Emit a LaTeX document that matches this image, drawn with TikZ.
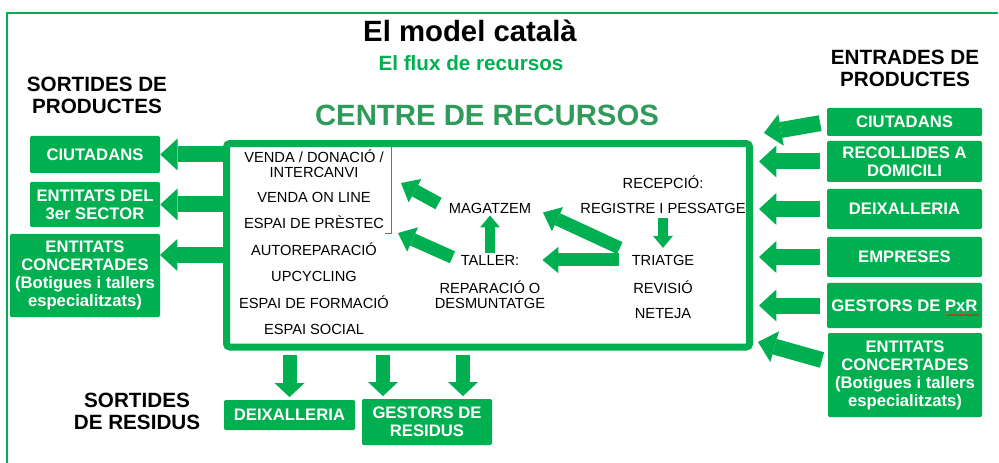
\documentclass[tikz,border=0pt]{standalone}
\usepackage{fontspec}
\setmainfont{Liberation Sans}
\usetikzlibrary{arrows.meta,decorations.pathmorphing}

\definecolor{recgreen}{RGB}{0,176,80}
\definecolor{titlegreen}{RGB}{46,155,90}

\tikzset{
  greenbox/.style={fill=recgreen, text=white, align=center, inner sep=0pt,
    rounded corners=1pt, font=\fontsize{12.5}{13.5}\selectfont\bfseries},
  heading/.style={align=center, font=\fontsize{15.5}{16.5}\selectfont\bfseries},
  item/.style={align=center, inner sep=1.5pt, font=\fontsize{11}{11.5}\selectfont},
  bigarrow/.style={recgreen, line width=12pt,
    -{Triangle[length=13pt,width=24pt,line width=0pt]}},
  resarrow/.style={recgreen, line width=10.5pt,
    -{Triangle[length=10.5pt,width=22.5pt,line width=0pt]}},
  midarrow/.style={recgreen, line width=9.75pt,
    -{Triangle[length=12pt,width=20pt,line width=0pt]}},
  smallarrow/.style={recgreen, line width=7.5pt,
    -{Triangle[length=9pt,width=15pt,line width=0pt]}}
}

\begin{document}
\begin{tikzpicture}[x=0.75pt, y=-0.75pt]
  \useasboundingbox (0,0) rectangle (999,463);
  \draw [recgreen, line width=1.5pt] (998,13) -- (7,13) -- (7,463);

  % titles
  \node (title) [font=\fontsize{22}{24}\selectfont\bfseries] at (470,31) {El model català};
  \node (subtitle) [font=\fontsize{15.5}{17}\selectfont\bfseries, text=recgreen] at (471,63) {El flux de recursos};
  \node (centretitle) [font=\fontsize{22}{24}\selectfont\bfseries, text=titlegreen] at (487,115) {CENTRE DE RECURSOS};

  \node (hsortprod) [heading] at (97,95) {SORTIDES DE\\PRODUCTES};
  \node (hentprod) [heading] at (905,68) {ENTRADES DE\\PRODUCTES};
  \node (hsortres) [heading] at (137,411) {SORTIDES\\DE RESIDUS};

  % centre de recursos
  \node (centre) [draw=recgreen, line width=5.25pt, rounded corners=2.5pt, inner sep=0pt,
    minimum width=392.25pt, minimum height=152.6pt] at (488,245.3) {};

  \node (venda) [item] at (314,164) {VENDA / DONACIÓ /\\INTERCANVI};
  \node (online) [item] at (314,197) {VENDA ON LINE};
  \node (prestec) [item] at (314,222) {ESPAI DE PRÈSTEC};
  \node (autorep) [item] at (314,249) {AUTOREPARACIÓ};
  \node (upcycling) [item] at (314,276) {UPCYCLING};
  \node (formacio) [item] at (314,302) {ESPAI DE FORMACIÓ};
  \node (social) [item] at (314,329) {ESPAI SOCIAL};
  \draw [recgreen, line width=0.75pt] (385,234) -- (391,234) -- (391,147);

  \node (mag) [item] at (490,208) {MAGATZEM};
  \node (taller) [item] at (490,260) {TALLER:};
  \node (reparacio) [item] at (490,295) {REPARACIÓ O\\DESMUNTATGE};

  \node (recepcio) [item] at (663,182) {RECEPCIÓ:};
  \node (registre) [item] at (663,208) {REGISTRE I PESSATGE};
  \node (triatge) [item] at (663,260) {TRIATGE};
  \node (revisio) [item] at (663,287) {REVISIÓ};
  \node (neteja) [item] at (663,314) {NETEJA};

  % sortides de productes
  \node (outciu) [greenbox, minimum width=97.5pt, minimum height=27.75pt] at (95,154.5) {CIUTADANS};
  \node (out3er) [greenbox, minimum width=97.5pt, minimum height=33.75pt] at (95,204.5) {ENTITATS DEL\\3er SECTOR};
  \node (outconc) [greenbox, minimum width=112.5pt, minimum height=62.25pt] at (85,275.5)
    {ENTITATS\\CONCERTADES\\(Botigues i tallers\\especialitzats)};

  % entrades de productes
  \node (inciu) [greenbox, minimum width=116.25pt, minimum height=21pt] at (904.5,122) {CIUTADANS};
  \node (inrec) [greenbox, minimum width=116.25pt, minimum height=30.75pt] at (904.5,161.5) {RECOLLIDES A\\DOMICILI};
  \node (indeix) [greenbox, minimum width=116.25pt, minimum height=30pt] at (904.5,209) {DEIXALLERIA};
  \node (inemp) [greenbox, minimum width=116.25pt, minimum height=30pt] at (904.5,257) {EMPRESES};
  \node (ingest) [greenbox, minimum width=116.25pt, minimum height=33.75pt] at (904.5,305.5) {GESTORS DE PxR};
  \node (inconc) [greenbox, minimum width=115.5pt, minimum height=63pt] at (905,375)
    {ENTITATS\\CONCERTADES\\(Botigues i tallers\\especialitzats)};
  \draw [red, line width=0.4pt, decorate, decoration={snake, amplitude=0.4pt, segment length=2pt}]
    (946,315) -- (979,315);

  % sortides de residus
  \node (resdeix) [greenbox, minimum width=98.25pt, minimum height=22.5pt] at (289.5,415) {DEIXALLERIA};
  \node (resgest) [greenbox, minimum width=97.5pt, minimum height=34.5pt] at (427,422) {GESTORS DE\\RESIDUS};

  % free ends of the arrows
  \coordinate (o3) at (160,255);
  \coordinate (r1) at (758,134);
  \coordinate (r6a) at (822,360);
  \coordinate (r6b) at (758,342);
  \coordinate (vprod1) at (401,183);
  \coordinate (vprod2) at (398,233);

  \path [bigarrow]
    (centre.west |- outciu.east) edge (outciu.east)
    (centre.west |- out3er.east) edge (out3er.east)
    (centre.west |- o3) edge (o3);

  \path [bigarrow, shorten <=5pt, shorten >=4.5pt]
    (inciu.west) edge (r1)
    (inrec.west) edge (centre.east |- inrec.west)
    (indeix.west) edge (centre.east |- indeix.west)
    (inemp.west) edge (centre.east |- inemp.west)
    (ingest.west) edge (centre.east |- ingest.west);
  \path [bigarrow] (r6a) edge (r6b);

  \path [resarrow, shorten <=3pt, shorten >=2pt]
    (centre.south -| resdeix.north) edge (resdeix.north)
    (centre.south -| 383,0) edge (resgest.north -| 383,0)
    (centre.south -| 463,0) edge (resgest.north -| 463,0);

  \path [midarrow]
    (mag.west) edge [shorten <=7pt] (vprod1)
    (taller.west) edge [shorten <=5pt] (vprod2)
    (triatge.west) edge [shorten <=8pt, shorten >=15.75pt] (taller.east)
    (triatge.north west) edge [shorten <=8pt, shorten >=8pt] (mag.east);
  \path [smallarrow]
    (taller.north) edge (mag.south)
    (registre.south) edge [shorten <=2pt, shorten >=3.5pt] (triatge.north);
\end{tikzpicture}
\end{document}
